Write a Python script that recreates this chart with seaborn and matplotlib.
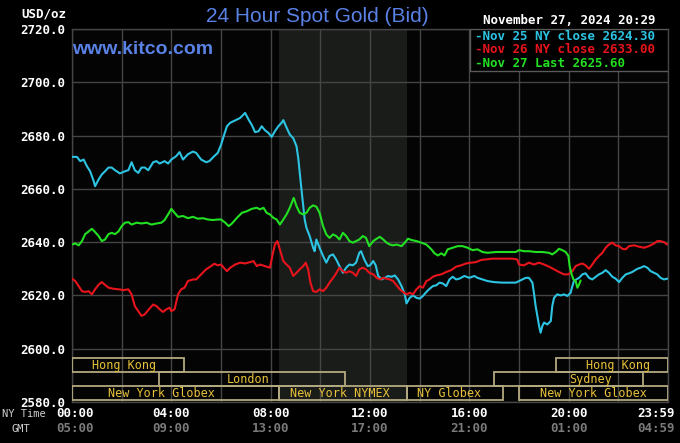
import matplotlib
matplotlib.use("Agg")
import matplotlib.pyplot as plt
from matplotlib.patches import Rectangle
import seaborn as sns
import pandas as pd

# ---------------- data (hours in NY time, price USD/oz) ----------------
nov25_hours = [0.0, 0.2, 0.33, 0.47, 0.6, 0.73, 0.87, 0.93, 1.07, 1.2, 1.33, 1.47, 1.6, 1.73, 1.93, 2.13, 2.27, 2.4, 2.53, 2.67, 2.8, 2.93, 3.07, 3.27, 3.4, 3.53, 3.73, 3.87, 4.0, 4.2, 4.33, 4.47, 4.67, 4.87, 5.0, 5.2, 5.4, 5.53, 5.73, 5.87,
               6.0, 6.11, 6.24, 6.37, 6.51, 6.64, 6.77, 6.91, 6.97, 7.11, 7.24, 7.37, 7.51, 7.64, 7.77, 7.91, 8.04, 8.17, 8.31, 8.44, 8.51, 8.64, 8.77, 8.91, 9.04, 9.11, 9.17, 9.24, 9.31, 9.37, 9.44, 9.57, 9.71, 9.77, 9.84, 9.97, 10.11, 10.24, 10.37, 10.51, 10.64, 10.77, 10.91, 11.04, 11.17, 11.31, 11.44, 11.57, 11.64, 11.77, 11.91,
               12.0, 12.13, 12.23, 12.33, 12.47, 12.6, 12.73, 12.87, 13.0, 13.13, 13.27, 13.4, 13.47, 13.6, 13.73, 13.87, 14.0, 14.13, 14.27, 14.4, 14.53, 14.67, 14.8, 14.93, 15.07, 15.2, 15.33, 15.47, 15.6, 15.8, 16.0, 16.2, 16.33, 16.53, 16.73, 17.0, 17.33, 17.6, 17.87,
               18.0, 18.13, 18.27, 18.4, 18.54, 18.6, 18.67, 18.74, 18.81, 18.87, 18.94, 19.01, 19.14, 19.28, 19.34, 19.41, 19.54, 19.68, 19.81, 19.95, 20.08, 20.15, 20.21, 20.31, 20.42, 20.55, 20.68, 20.82, 20.95, 21.09, 21.22, 21.36, 21.49, 21.62, 21.76, 21.89, 22.03, 22.16, 22.3, 22.43, 22.56, 22.77, 22.9, 23.03, 23.17, 23.3, 23.44, 23.57, 23.7, 23.84, 23.97]
nov25_price = [2672, 2672, 2670.4, 2671, 2668.5, 2666.6, 2663, 2661, 2663.5, 2665.4, 2666.6, 2668, 2668, 2667, 2665.8, 2666.6, 2667, 2670, 2667, 2666, 2668, 2668, 2667, 2670, 2670.4, 2669.5, 2670.4, 2669.5, 2671, 2672.3, 2673.8, 2671, 2673, 2674, 2673.5, 2671, 2670, 2670.4, 2672.3, 2673.5,
               2676.5, 2679.8, 2683.5, 2684.8, 2685.4, 2686, 2686.6, 2687.9, 2688.5, 2686, 2684, 2681.3, 2681.6, 2683.5, 2682, 2681, 2679.5, 2681.6, 2683.5, 2684.8, 2685.8, 2683, 2680.4, 2679, 2676, 2671.6, 2666, 2659.8, 2653.5, 2648.5, 2645.4, 2642.3, 2637.9, 2636.6, 2641, 2637.9, 2634.8, 2632.3, 2634.8, 2635.4, 2633.5, 2631, 2628.5, 2630.4, 2631.6, 2631.3, 2632.3, 2636, 2636.6, 2633.5, 2631,
               2631.3, 2632.9, 2631.3, 2627.3, 2626, 2626.6, 2627.3, 2627, 2627.5, 2626, 2623.5, 2620.4, 2617, 2619.1, 2620, 2619.1, 2618.8, 2619.8, 2621.3, 2622.5, 2623.5, 2623.8, 2624.8, 2624.5, 2623.5, 2626, 2627, 2626, 2626.3, 2627.3, 2626.6, 2627.3, 2626.6, 2626, 2625.4, 2625, 2624.8, 2624.8, 2624.8,
               2625.4, 2626, 2626.6, 2626.6, 2624.8, 2621, 2616, 2612.3, 2608.5, 2606, 2608.5, 2609.8, 2609.1, 2610.4, 2616, 2619.1, 2620.4, 2620, 2620.4, 2619.8, 2621, 2623.5, 2625.4, 2626, 2626.6, 2627.9, 2628.3, 2626.6, 2626, 2627, 2627.9, 2628.5, 2629.5, 2628.5, 2627, 2626.3, 2625, 2626.6, 2627.9, 2628.3, 2628.8, 2630, 2630.4, 2631, 2630.4, 2629.1, 2628.5, 2627.9, 2626.6, 2626, 2626.3]

nov26_hours = [0.0, 0.13, 0.27, 0.4, 0.53, 0.67, 0.8, 0.93, 1.07, 1.2, 1.33, 1.47, 1.67, 1.87, 2.07, 2.27, 2.4, 2.53, 2.67, 2.8, 2.93, 3.07, 3.27, 3.4, 3.53, 3.67, 3.8, 3.93, 4.0, 4.13, 4.27, 4.4, 4.53, 4.67, 4.87, 5.0, 5.2, 5.4, 5.6, 5.73, 5.87,
               6.0, 6.11, 6.24, 6.37, 6.57, 6.77, 6.97, 7.17, 7.31, 7.44, 7.57, 7.77, 7.97, 8.08, 8.17, 8.27, 8.37, 8.51, 8.64, 8.77, 8.91, 9.04, 9.17, 9.31, 9.41, 9.51, 9.6, 9.71, 9.84, 9.97, 10.11, 10.24, 10.37, 10.57, 10.77, 10.91, 11.04, 11.17, 11.31, 11.44, 11.57, 11.71, 11.84, 11.97,
               12.13, 12.27, 12.4, 12.53, 12.67, 12.8, 12.93, 13.07, 13.2, 13.33, 13.47, 13.6, 13.73, 13.87, 14.0, 14.13, 14.27, 14.4, 14.53, 14.67, 14.87, 15.07, 15.27, 15.47, 15.67, 15.87, 16.07, 16.27, 16.47, 16.67, 16.93, 17.2, 17.47, 17.73, 17.93,
               18.0, 18.2, 18.4, 18.6, 18.81, 19.01, 19.21, 19.41, 19.61, 19.81, 19.99, 20.15, 20.28, 20.42, 20.55, 20.68, 20.82, 20.95, 21.09, 21.22, 21.36, 21.49, 21.62, 21.76, 21.89, 22.03, 22.16, 22.3, 22.43, 22.63, 22.83, 23.03, 23.23, 23.44, 23.57, 23.7, 23.84, 23.97]
nov26_price = [2626.3, 2625.4, 2623.5, 2621.6, 2621.3, 2621.6, 2620.4, 2622.3, 2624, 2625, 2624, 2622.9, 2622.5, 2622.3, 2622, 2622.3, 2620.4, 2616, 2614.1, 2612.3, 2612.9, 2614.5, 2616.6, 2616, 2614.8, 2613.8, 2614.8, 2615.4, 2614.1, 2614.8, 2620.4, 2622.3, 2622.9, 2625.4, 2626, 2626, 2627.9, 2629.8, 2631, 2631.9, 2631.3,
               2631.6, 2630.4, 2629.1, 2630.4, 2631.6, 2632.3, 2632, 2632.5, 2632.9, 2631, 2631.6, 2631, 2630.4, 2635.4, 2639.1, 2640.4, 2637.3, 2632.9, 2631.6, 2630.4, 2627.3, 2628.5, 2629.8, 2631, 2632.3, 2629.8, 2624.8, 2621.6, 2621.3, 2622.3, 2621.6, 2622.9, 2624.8, 2627.3, 2630.4, 2629.1, 2628.5, 2629.1, 2628.5, 2627.3, 2629.8, 2630.4, 2629.8, 2628.5,
               2627.9, 2626.6, 2626, 2626.6, 2626.3, 2626, 2625.4, 2623.8, 2622.3, 2621.3, 2620.4, 2621, 2620.4, 2622.3, 2623.5, 2622.9, 2625.4, 2626, 2627, 2627.5, 2627.9, 2628.8, 2629.5, 2630.8, 2631.3, 2632, 2632.3, 2632.5, 2633.3, 2633.5, 2633.8, 2633.8, 2633.8, 2633.8, 2633.5,
               2631.6, 2631.3, 2632.3, 2631.6, 2632.3, 2631.6, 2630.8, 2629.8, 2628.8, 2627.9, 2627.9, 2629.1, 2631, 2631.6, 2632, 2631.3, 2630, 2631.6, 2633.5, 2634.8, 2636, 2637.9, 2639.1, 2639.8, 2638.8, 2638.5, 2637.5, 2637.3, 2638.5, 2638.8, 2638.3, 2637.9, 2638.5, 2639.5, 2640.4, 2640.4, 2640, 2639.1]

nov27_hours = [0.0, 0.13, 0.27, 0.4, 0.53, 0.67, 0.8, 0.93, 1.07, 1.2, 1.33, 1.47, 1.6, 1.73, 1.87, 2.0, 2.13, 2.27, 2.4, 2.6, 2.8, 3.0, 3.2, 3.4, 3.6, 3.73, 3.87, 4.0, 4.13, 4.27, 4.47, 4.67, 4.87, 5.07, 5.27, 5.47, 5.67, 5.87,
               6.0, 6.17, 6.31, 6.44, 6.64, 6.84, 7.04, 7.24, 7.44, 7.57, 7.71, 7.84, 7.97, 8.11, 8.24, 8.37, 8.51, 8.64, 8.77, 8.93, 9.04, 9.17, 9.31, 9.44, 9.57, 9.71, 9.84, 9.97, 10.11, 10.24, 10.37, 10.51, 10.64, 10.77, 10.91, 11.04, 11.17, 11.31, 11.44, 11.57, 11.71, 11.84, 11.97,
               12.13, 12.27, 12.4, 12.53, 12.67, 12.8, 12.93, 13.07, 13.27, 13.4, 13.53, 13.67, 13.87, 14.07, 14.27, 14.47, 14.6, 14.73, 14.87, 15.0, 15.13, 15.33, 15.53, 15.73, 15.93, 16.13, 16.33, 16.53, 16.73, 17.07, 17.33, 17.6, 17.87,
               18.0, 18.2, 18.4, 18.67, 18.94, 19.21, 19.34, 19.48, 19.61, 19.74, 19.88, 19.99, 20.04, 20.12, 20.19, 20.28, 20.35, 20.42, 20.48]
nov27_price = [2639.1, 2639.5, 2638.8, 2640.4, 2643, 2644, 2645, 2643.8, 2642.3, 2640.4, 2641, 2643, 2643.5, 2643, 2644, 2646, 2647.3, 2647.5, 2646.6, 2647.3, 2647, 2647.3, 2646.6, 2647, 2647.3, 2648.3, 2650.4, 2652.5, 2651, 2649.5, 2649.8, 2649, 2649.5, 2648.8, 2649, 2648.5, 2648.3, 2648.5,
               2648.5, 2647.3, 2646, 2647, 2649.1, 2651, 2651.6, 2652.5, 2652.9, 2652.3, 2652.9, 2651, 2650.4, 2649.1, 2648.5, 2646.6, 2648.5, 2650.4, 2652.9, 2656.6, 2653.5, 2651, 2650.4, 2651, 2652.9, 2653.8, 2653.3, 2651, 2646, 2642.9, 2641.6, 2642.9, 2642.3, 2641, 2643.5, 2642.3, 2640.4, 2639.8, 2640.4, 2641, 2642.3, 2641.6, 2638.5,
               2640.4, 2641.3, 2642, 2641, 2639.8, 2639.1, 2638.8, 2639.1, 2638.5, 2639.8, 2641.3, 2640.8, 2640.4, 2639.8, 2639.1, 2637.3, 2635.8, 2635, 2635.8, 2635, 2637.3, 2637.9, 2638.5, 2638.5, 2637.9, 2637, 2637.3, 2636.3, 2636, 2636.3, 2636.3, 2636.3, 2636.3,
               2637, 2636.6, 2636.6, 2636.3, 2636.3, 2636, 2635.4, 2636.3, 2637.5, 2637, 2636.3, 2634.8, 2631, 2627.9, 2626, 2625.4, 2622.9, 2624.1, 2625.6]

series_labels = ["Nov 25 NY close 2624.30", "Nov 26 NY close 2633.00", "Nov 27 Last 2625.60"]
y_ticks = [2580, 2600, 2620, 2640, 2660, 2680, 2700, 2720]
ny_time_labels = ["00:00", "04:00", "08:00", "12:00", "16:00", "20:00", "23:59"]
gmt_labels = ["05:00", "09:00", "13:00", "17:00", "21:00", "01:00", "04:59"]
label_hours = [0, 4, 8, 12, 16, 20, 23.98]

# market sessions: (name, start hour, end hour, row)
session_names = ["Hong Kong", "London", "New York Globex", "New York NYMEX", "NY Globex", "New York Globex", "Sydney", "Hong Kong"]
session_start = [0.0, 3.5, 0.0, 8.33, 13.5, 18.0, 17.0, 19.5]
session_end = [4.5, 11.0, 8.33, 13.5, 17.35, 24.0, 23.0, 24.0]
session_row = [0, 1, 2, 2, 2, 2, 1, 0]
session_label_x = [2.1, 7.1, 3.6, 10.8, 15.2, 21.0, 20.9, 22.0]

# ---------------- styling ----------------
sns.set_theme(style="dark")
plt.rcParams["font.family"] = ["DejaVu Sans Mono"]

colors = ["#2cc4e2", "#e8141c", "#22e022"]
mono = "DejaVu Sans Mono"

fig = plt.figure(figsize=(6.8, 4.43), dpi=100, facecolor="black")
ax = fig.add_axes([72 / 680, 1 - 402 / 443, 596 / 680, 373 / 443])
ax.set_facecolor("#040404")

frames = []
for lab, h, p in zip(series_labels, [nov25_hours, nov26_hours, nov27_hours],
                     [nov25_price, nov26_price, nov27_price]):
    frames.append(pd.DataFrame({"hour": h, "price": p, "series": lab}))
df = pd.concat(frames, ignore_index=True)

# NYMEX shaded period
ax.axvspan(8.33, 13.5, color="#1a1c1a", zorder=0, lw=0)

sns.lineplot(data=df, x="hour", y="price", hue="series", palette=colors,
             hue_order=series_labels, linewidth=1.5, legend=False, ax=ax,
             estimator=None, sort=False, zorder=3)

ax.set_xlim(0, 24)
ax.set_ylim(2580, 2720)
ax.set_xticks([i * 2 for i in range(13)])
ax.set_xticklabels([])
ax.set_yticks(y_ticks)
ax.set_yticklabels([f"{v:.1f}" for v in y_ticks], color="white", fontsize=9,
                   fontfamily=mono, fontweight="bold")
ax.tick_params(axis="both", length=0, pad=5)
ax.grid(True, color="#454545", linewidth=1.0, zorder=1)
ax.set_axisbelow(True)
for s in ax.spines.values():
    s.set_color("#454545")
    s.set_linewidth(1.0)
ax.set_xlabel("")
ax.set_ylabel("")

# session bars
row_bounds = [(2591.2, 2596.4), (2586.0, 2591.2), (2580.6, 2586.0)]
for name, s0, s1, r, lx in zip(session_names, session_start, session_end, session_row, session_label_x):
    y0, y1 = row_bounds[r]
    ax.add_patch(Rectangle((s0, y0), s1 - s0, y1 - y0, fill=False,
                           edgecolor="#b4aa80", linewidth=1.3, zorder=4))
    ax.text(lx, (y0 + y1) / 2, name, color="#e8c23a", fontsize=8.5,
            fontfamily=mono, ha="center", va="center", zorder=5)

# x labels (NY time and GMT)
for h, ny, g in zip(label_hours, ny_time_labels, gmt_labels):
    xx = h if h < 23 else 23.52
    if h == 0:
        xx = 0.12
    ax.text(xx, -0.030, ny, transform=ax.get_xaxis_transform(), color="white",
            fontsize=9, fontweight="bold", fontfamily=mono, ha="center", va="center")
    ax.text(xx, -0.070, g, transform=ax.get_xaxis_transform(), color="#7a7a7a",
            fontsize=9, fontweight="bold", fontfamily=mono, ha="center", va="center")
fig.text(2 / 680, 1 - 414 / 443, "NY Time", color="#d0d0d0", fontsize=7.5,
         fontfamily=mono, ha="left", va="center")
fig.text(12 / 680, 1 - 429 / 443, "GMT", color="#d0d0d0", fontsize=7.5,
         fontfamily=mono, ha="left", va="center")

# header texts
fig.text(66 / 680, 1 - 14 / 443, "USD/oz", color="white", fontsize=9,
         fontweight="bold", fontfamily=mono, ha="right", va="center")
fig.text(317 / 680, 1 - 17 / 443, "24 Hour Spot Gold (Bid)", color="#5a82e6",
         fontsize=15, fontfamily="Liberation Sans", ha="center", va="center")
fig.text(483 / 680, 1 - 21 / 443, "November 27, 2024 20:29", color="white",
         fontsize=9, fontweight="bold", fontfamily=mono, ha="left", va="center")
ax.text(0.0, 0.944, "www.kitco.com", transform=ax.transAxes, color="#5a82e6",
        fontsize=14, fontfamily="Liberation Sans", fontweight="bold",
        ha="left", va="center", zorder=6)

# legend box
ax.add_patch(Rectangle((0.668, 0.887), 0.332, 0.113, transform=ax.transAxes,
                       facecolor="black", edgecolor="#5a5a5a", linewidth=1.0, zorder=6))
for i, (lab, c) in enumerate(zip(series_labels, colors)):
    ax.text(0.676, 0.980 - i * 0.036, "-" + lab, transform=ax.transAxes, color=c,
            fontsize=9, fontweight="bold", fontfamily=mono, ha="left", va="center", zorder=7)

fig.savefig("out.png", dpi=100, facecolor="black")
